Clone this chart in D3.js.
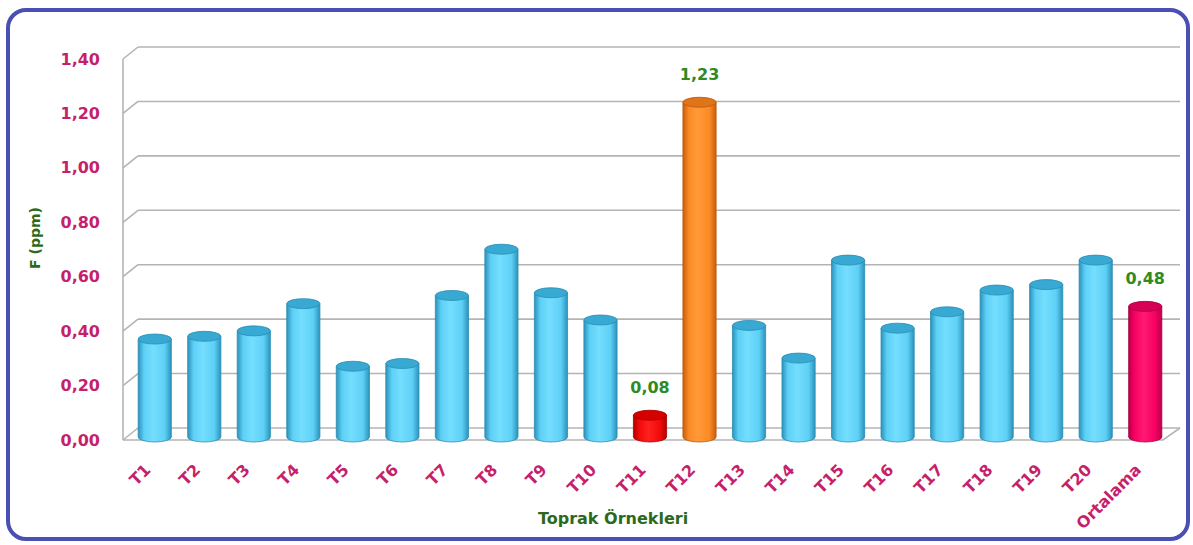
<!DOCTYPE html>
<html>
<head>
<meta charset="utf-8">
<script src="https://cdn.jsdelivr.net/npm/d3@7"></script>
<style>
  body { margin: 0; background: #fff; }
  svg text { font-family: "DejaVu Sans", Verdana, sans-serif; font-weight: bold; }
</style>
</head>
<body>
<div class="chart"></div>
<script>
// soil samples and their F values (ppm)
const categories = ["T1", "T2", "T3", "T4", "T5", "T6", "T7", "T8", "T9", "T10",
  "T11", "T12", "T13", "T14", "T15", "T16", "T17", "T18", "T19", "T20", "Ortalama"];
const values = [0.36, 0.37, 0.39, 0.49, 0.26, 0.27, 0.52, 0.69, 0.53, 0.43,
  0.08, 1.23, 0.41, 0.29, 0.65, 0.40, 0.46, 0.54, 0.56, 0.65, 0.48];
const yTicks = [0, 0.2, 0.4, 0.6, 0.8, 1.0, 1.2, 1.4];
// only these bars carry a value label
const labelled = ["T11", "T12", "Ortalama"];

const width = 1193, height = 545;
const depth = {dx: 15, dy: -12}; // back wall offset of the 3d box

const svg = d3.select(".chart")
  .append("svg")
    .attr("width", width)
    .attr("height", height);

const defs = svg.append("defs");

// cylinder shading: dark edge, bright middle, dark edge
const palettes = {
  cyan: {edge: "#2b93bb", mid: "#74defe", light: "#5ed0f6", top: "#38a9d2", stroke: "#2a8db3"},
  red: {edge: "#b30000", mid: "#ff2020", light: "#f20a0a", top: "#d60000", stroke: "#a00000"},
  orange: {edge: "#c95f0c", mid: "#ff9a3a", light: "#fb8a24", top: "#e07418", stroke: "#b8560c"},
  pink: {edge: "#b8004a", mid: "#ff1a72", light: "#f70062", top: "#d80056", stroke: "#a30040"}
};

Object.keys(palettes).forEach((key) => {
  const p = palettes[key];
  const g = defs.append("linearGradient")
    .attr("id", "grad-" + key)
    .attr("x1", "0%").attr("x2", "100%")
    .attr("y1", "0%").attr("y2", "0%");
  g.append("stop").attr("offset", "0%").attr("stop-color", p.edge);
  g.append("stop").attr("offset", "18%").attr("stop-color", p.light);
  g.append("stop").attr("offset", "45%").attr("stop-color", p.mid);
  g.append("stop").attr("offset", "80%").attr("stop-color", p.light);
  g.append("stop").attr("offset", "100%").attr("stop-color", p.edge);
});

function paletteFor(name) {
  if (name == "T11") return "red";
  if (name == "T12") return "orange";
  if (name == "Ortalama") return "pink";
  return "cyan";
}

// outer frame
svg.append("rect")
  .attr("x", 8).attr("y", 10)
  .attr("width", 1180).attr("height", 529)
  .attr("rx", 18).attr("ry", 18)
  .attr("fill", "#fff")
  .attr("stroke", "#4a4fb3")
  .attr("stroke-width", 4);

const x = d3.scaleBand()
  .domain(categories)
  .range([123, 1163])
  .paddingInner(0.33)
  .paddingOuter(0.165);

const y = d3.scaleLinear()
  .domain([0, 1.4])
  .range([440, 59]);

const x0 = x.range()[0], x1 = x.range()[1];

// back wall gridlines and left wall diagonals
const grid = svg.append("g")
  .attr("stroke", "#b4b4b4")
  .attr("stroke-width", 1.6)
  .attr("fill", "none");

grid.selectAll(".back")
  .data(yTicks)
  .join("line")
    .attr("x1", x0 + depth.dx)
    .attr("x2", x1 + depth.dx + 2)
    .attr("y1", d => y(d) + depth.dy)
    .attr("y2", d => y(d) + depth.dy);

grid.selectAll(".side")
  .data(yTicks)
  .join("line")
    .attr("x1", x0)
    .attr("x2", x0 + depth.dx)
    .attr("y1", d => y(d))
    .attr("y2", d => y(d) + depth.dy);

// floor front edge and right edge
grid.append("path")
  .attr("d", `M${x0},${y(0)} L${x1},${y(0)} L${x1 + depth.dx + 2},${y(0) + depth.dy}`);

// left axis line
grid.append("line")
  .attr("x1", x0).attr("x2", x0)
  .attr("y1", y(1.4)).attr("y2", y(0));

// y axis labels
const fmt = d => d3.format(".2f")(d).replace(".", ",");

svg.append("g")
  .attr("transform", `translate(${x0},0)`)
  .call(d3.axisLeft(y).tickValues(yTicks).tickFormat(fmt).tickSize(0).tickPadding(23))
  .call(g => g.select(".domain").remove())
  .selectAll("text")
    .attr("fill", "#c61f6c")
    .style("font-size", "16px")
    .style("font-family", "'DejaVu Sans', Verdana, sans-serif")
    .style("font-weight", "bold");

// x axis labels, slanted
svg.append("g")
  .attr("transform", `translate(0,${y(0)})`)
  .call(d3.axisBottom(x).tickSize(0))
  .call(g => g.select(".domain").remove())
  .selectAll("text")
    .attr("fill", "#c61f6c")
    .attr("x", 0).attr("y", 0).attr("dy", "0.35em")
    .attr("text-anchor", "end")
    .attr("transform", "translate(0,27) rotate(-45)")
    .style("font-size", "16px")
    .style("font-family", "'DejaVu Sans', Verdana, sans-serif")
    .style("font-weight", "bold");

// cylinders sit half way into the box
const bx = 7, by = -3;
const rx = x.bandwidth() / 2, ry = 5;

const data = categories.map((c, i) => ({key: c, value: values[i]}));

const bars = svg.append("g")
  .selectAll("g")
  .data(data)
  .join("g");

bars.append("path")
  .attr("fill", d => `url(#grad-${paletteFor(d.key)})`)
  .attr("stroke", d => palettes[paletteFor(d.key)].stroke)
  .attr("stroke-width", 0.8)
  .attr("d", d => {
    const cx = x(d.key) + rx + bx;
    const yt = y(d.value) + by;
    const yb = y(0) + by;
    return `M${cx - rx},${yt} L${cx - rx},${yb} A${rx},${ry} 0 0 0 ${cx + rx},${yb} L${cx + rx},${yt} Z`;
  });

bars.append("ellipse")
  .attr("cx", d => x(d.key) + rx + bx)
  .attr("cy", d => y(d.value) + by)
  .attr("rx", rx)
  .attr("ry", ry)
  .attr("fill", d => palettes[paletteFor(d.key)].top)
  .attr("stroke", d => palettes[paletteFor(d.key)].stroke)
  .attr("stroke-width", 0.8);

// value labels
svg.append("g")
  .selectAll("text")
  .data(data.filter(d => labelled.includes(d.key)))
  .join("text")
    .attr("x", d => x(d.key) + rx + bx)
    .attr("y", d => y(d.value) + by - 22)
    .attr("text-anchor", "middle")
    .attr("fill", "#2f8a1f")
    .style("font-size", "16px")
    .text(d => fmt(d.value));

// axis titles
svg.append("text")
  .attr("x", 613)
  .attr("y", 524)
  .attr("text-anchor", "middle")
  .attr("fill", "#2b6a1c")
  .style("font-size", "16px")
  .text("Toprak Örnekleri");

svg.append("text")
  .attr("transform", "translate(40,238) rotate(-90)")
  .attr("text-anchor", "middle")
  .attr("fill", "#2b6a1c")
  .style("font-size", "14px")
  .text("F (ppm)");
</script>
</body>
</html>
